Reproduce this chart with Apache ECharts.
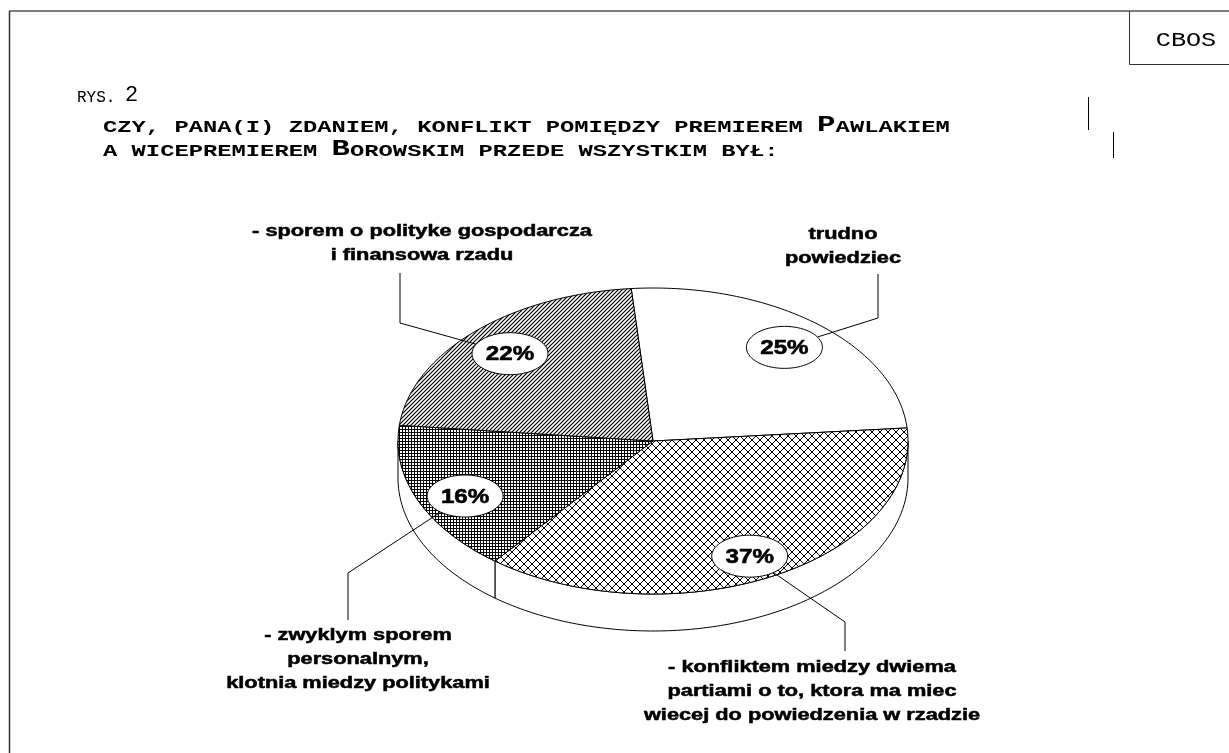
<!DOCTYPE html>
<html>
<head>
<meta charset="utf-8">
<title>CBOS - Rys. 2</title>
<script src="https://cdn.jsdelivr.net/npm/echarts@6/dist/echarts.min.js"></script>
<style>
html, body { margin: 0; padding: 0; background: #fff; }
#main { width: 1229px; height: 753px; }
</style>
</head>
<body>
<div id="main"></div>
<script>
// dane wykresu (kolejnosc zgodnie z ruchem wskazowek zegara od gory)
var categories = [
  'trudno\npowiedziec',
  '- konfliktem miedzy dwiema\npartiami o to, ktora ma miec\nwiecej do powiedzenia w rzadzie',
  '- zwyklym sporem\npersonalnym,\nklotnia miedzy politykami',
  '- sporem o polityke gospodarcza\ni finansowa rzadu'
];
var values = [25, 37, 16, 22];
var figureNo = '2';
var titleLine1 = ['CZY, PANA(I) ZDANIEM, KONFLIKT POMIĘDZY PREMIEREM ', 'P', 'AWLAKIEM'];
var titleLine2 = ['A WICEPREMIEREM ', 'B', 'OROWSKIM PRZEDE WSZYSTKIM BYŁ:'];

// geometria "3D" kola
var pie = { cx: 653, cy: 441, rx: 255, ry: 153, depth: 37, startAngle: 94.9 };
// linie odniesienia i polozenie opisow
var callouts = [
  { knee: [878, 318], end: [878, 274], text: [843, 247] },
  { knee: [845, 622], end: [845, 651], text: [812, 692] },
  { knee: [348, 573], end: [348, 620], text: [358, 660] },
  { knee: [400, 323], end: [400, 273], text: [422, 244] }
];

function makePattern(size, lw, draw) {
  var c = document.createElement('canvas');
  c.width = size; c.height = size;
  var ctx = c.getContext('2d');
  ctx.fillStyle = '#fff';
  ctx.fillRect(0, 0, size, size);
  ctx.strokeStyle = '#000';
  ctx.fillStyle = '#000';
  ctx.lineWidth = lw;
  draw(ctx, size);
  return { image: c, repeat: 'repeat' };
}
// ukosne linie przez naroza kafelka
function diagLines(ctx, s, dir) {
  ctx.beginPath();
  for (var k = -1; k <= 1; k++) {
    if (dir > 0) { ctx.moveTo(-2, s * (k + 1) + 2); ctx.lineTo(s + 2, s * k - 2); }
    else { ctx.moveTo(-2, s * k - 2); ctx.lineTo(s + 2, s * (k + 1) + 2); }
  }
  ctx.stroke();
}
var fills = [
  '#fff',
  makePattern(8, 1, function (ctx, s) { diagLines(ctx, s, 1); diagLines(ctx, s, -1); }),
  makePattern(3, 1, function (ctx, s) { ctx.fillRect(0, 0, s, 1); ctx.fillRect(0, 0, 1, s); }),
  makePattern(4, 1.2, function (ctx, s) { diagLines(ctx, s, 1); })
];

var total = values.reduce(function (a, b) { return a + b; }, 0);
var cum = [];
values.reduce(function (acc, v, i) { cum[i] = acc; return acc + v; }, 0);

function rad(a) { return a * Math.PI / 180; }
function arcPoints(from, to, dy) {
  var n = Math.max(2, Math.ceil(Math.abs(to - from)) + 1);
  var pts = [];
  for (var j = 0; j < n; j++) {
    var a = rad(from + (to - from) * j / (n - 1));
    pts.push([pie.cx + pie.rx * Math.cos(a), pie.cy - pie.ry * Math.sin(a) + dy]);
  }
  return pts;
}
function ellipsePoints(cx, cy, rx, ry) {
  var pts = [];
  for (var j = 0; j < 72; j++) {
    var a = j / 72 * Math.PI * 2;
    pts.push([cx + rx * Math.cos(a), cy + ry * Math.sin(a)]);
  }
  return pts;
}

function renderItem(params, api) {
  var i = params.dataIndex;
  var v = api.value(0);
  var a0 = pie.startAngle - cum[i] / total * 360;
  var a1 = a0 - v / total * 360;
  var children = [];

  // sciana boczna (tylko dolna polowa)
  for (var k = -2; k <= 2; k++) {
    var lo = Math.max(a1, -180 + 360 * k), hi = Math.min(a0, 360 * k);
    if (hi > lo) {
      children.push({
        type: 'polygon',
        shape: { points: arcPoints(lo, hi, 0).concat(arcPoints(hi, lo, pie.depth)) },
        style: { fill: '#fff', stroke: '#000', lineWidth: 1 }
      });
    }
  }
  // wierzch wycinka
  children.push({
    type: 'polygon',
    shape: { points: [[pie.cx, pie.cy]].concat(arcPoints(a0, a1, 0)) },
    style: { fill: fills[i], stroke: '#000', lineWidth: 1 }
  });

  // etykieta procentowa w elipsie
  var mid = rad((a0 + a1) / 2);
  var lx = pie.cx + pie.rx * 0.8 * Math.cos(mid);
  var ly = pie.cy - pie.ry * 0.8 * Math.sin(mid) + (Math.sin(mid) < 0 ? pie.depth / 5 : 0);
  var erx = 38, ery = 21;
  var co = callouts[i];
  var phi = Math.atan2((co.knee[1] - ly) / ery, (co.knee[0] - lx) / erx);
  children.push({
    type: 'polyline', z2: 10,
    shape: { points: [[lx + erx * Math.cos(phi), ly + ery * Math.sin(phi)], co.knee, co.end] },
    style: { fill: null, stroke: '#000', lineWidth: 1 }
  });
  children.push({
    type: 'polygon', z2: 11,
    shape: { points: ellipsePoints(lx, ly, erx, ery) },
    style: { fill: '#fff', stroke: '#000', lineWidth: 1 }
  });
  children.push({
    type: 'text', z2: 12, x: lx, y: ly + 1, scaleX: 1.15,
    style: {
      text: v + '%', fontFamily: 'Liberation Sans', fontWeight: 'bold', fontSize: 21,
      fill: '#000', stroke: '#000', lineWidth: 0.6, align: 'center', verticalAlign: 'middle'
    }
  });
  children.push({
    type: 'text', z2: 12, x: co.text[0], y: co.text[1], scaleX: 1.36,
    style: {
      text: categories[i], fontFamily: 'Liberation Sans', fontWeight: 'bold', fontSize: 16,
      lineHeight: 24, fill: '#000', stroke: '#000', lineWidth: 0.5,
      align: 'center', verticalAlign: 'middle'
    }
  });
  return { type: 'group', children: children };
}

var mono = 'Liberation Mono';
var titleRich = {
  s: { fontFamily: mono, fontWeight: 'bold', fontSize: 17, lineHeight: 22, verticalAlign: 'bottom' },
  b: { fontFamily: mono, fontWeight: 'bold', fontSize: 22, lineHeight: 22, verticalAlign: 'bottom' }
};
function richLine(parts) {
  return '{s|' + parts[0] + '}{b|' + parts[1] + '}{s|' + parts[2] + '}';
}

var myChart = echarts.init(document.getElementById('main'));
var option = {
  animation: false,
  backgroundColor: '#fff',
  graphic: [
    { type: 'line', shape: { x1: 9, y1: 11, x2: 1229, y2: 11 }, style: { stroke: '#555', lineWidth: 1.5 } },
    { type: 'line', shape: { x1: 9.5, y1: 11, x2: 9.5, y2: 753 }, style: { stroke: '#333', lineWidth: 1.5 } },
    { type: 'polyline', shape: { points: [[1129.5, 11], [1129.5, 64.5], [1229, 64.5]] }, style: { fill: null, stroke: '#333', lineWidth: 1 } },
    {
      type: 'text', x: 1186, y: 40, scaleX: 1.2,
      style: { text: 'CBOS', fontFamily: mono, fontSize: 21, fill: '#000', align: 'center', verticalAlign: 'middle' }
    },
    {
      type: 'text', x: 77, y: 106,
      style: {
        text: '{s|RYS. }{b|' + figureNo + '}', fill: '#000', verticalAlign: 'bottom',
        rich: {
          s: { fontFamily: mono, fontSize: 16, lineHeight: 20, verticalAlign: 'bottom' },
          b: { fontFamily: mono, fontSize: 22, lineHeight: 20, verticalAlign: 'bottom' }
        }
      }
    },
    {
      type: 'text', x: 103, y: 136, scaleX: 1.4,
      style: { text: richLine(titleLine1), fill: '#000', verticalAlign: 'bottom', rich: titleRich }
    },
    {
      type: 'text', x: 103, y: 160, scaleX: 1.4,
      style: { text: richLine(titleLine2), fill: '#000', verticalAlign: 'bottom', rich: titleRich }
    },
    { type: 'line', shape: { x1: 1088.5, y1: 97, x2: 1088.5, y2: 130 }, style: { stroke: '#000', lineWidth: 1 } },
    { type: 'line', shape: { x1: 1113.5, y1: 132, x2: 1113.5, y2: 158 }, style: { stroke: '#000', lineWidth: 1 } }
  ],
  series: [{
    type: 'custom',
    coordinateSystem: 'none',
    renderItem: renderItem,
    data: values
  }]
};
myChart.setOption(option);
</script>
</body>
</html>
